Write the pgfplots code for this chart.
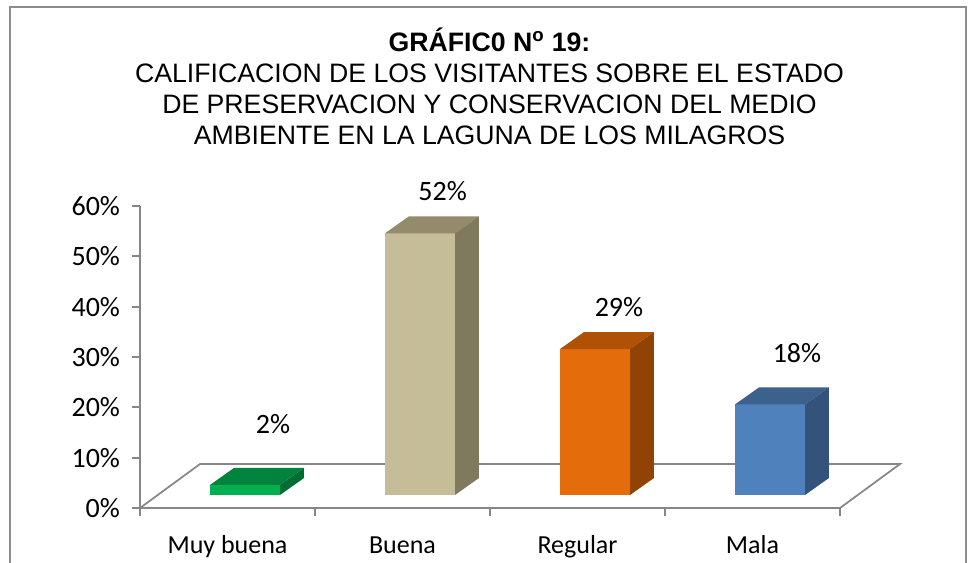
\documentclass[border=0pt]{standalone}
\usepackage{fontspec}
\setmainfont{Carlito}
\newfontfamily\arial{Liberation Sans}
\usepackage{pgfplots}
\pgfplotsset{compat=1.18}

\definecolor{gline}{RGB}{134,134,134}
\definecolor{frameg}{RGB}{140,140,140}
\definecolor{gfront}{RGB}{0,176,80}
\definecolor{gtop}{RGB}{0,132,61}
\definecolor{gside}{RGB}{0,110,50}
\definecolor{bfront}{RGB}{196,189,151}
\definecolor{btop}{RGB}{148,139,108}
\definecolor{bside}{RGB}{127,121,94}
\definecolor{rfront}{RGB}{228,108,10}
\definecolor{rtop}{RGB}{176,82,6}
\definecolor{rside}{RGB}{145,67,6}
\definecolor{mfront}{RGB}{79,129,189}
\definecolor{mtop}{RGB}{60,97,141}
\definecolor{mside}{RGB}{51,83,122}

% 3D bar: #1 category centre, #2 value (%), #3 front, #4 top, #5 side
\newcommand{\tdbar}[5]{%
  \pgfmathsetmacro\xl{#1-0.1}%
  \pgfmathsetmacro\xr{#1+0.3}%
  \pgfmathsetmacro\xrr{#1+0.3+0.137}%
  \pgfmathsetmacro\xll{#1-0.1+0.137}%
  \pgfmathsetmacro\yb{2.58}%
  \pgfmathsetmacro\ybb{2.58+3.38}%
  \pgfmathsetmacro\yt{2.58+#2}%
  \pgfmathsetmacro\ytt{2.58+#2+3.38}%
  \addplot[fill=#3, draw=none] coordinates {(\xl,\yb) (\xr,\yb) (\xr,\yt) (\xl,\yt)};
  \addplot[fill=#4, draw=none] coordinates {(\xl,\yt) (\xr,\yt) (\xrr,\ytt) (\xll,\ytt)};
  \addplot[fill=#5, draw=none] coordinates {(\xr,\yb) (\xrr,\ybb) (\xrr,\ytt) (\xr,\yt)};
}

\newcommand{\lblfont}{\fontsize{19.5}{21}\selectfont}
\newcommand{\numfont}{\fontsize{21}{23}\selectfont}

\begin{document}
\begin{tikzpicture}
\begin{scope}[x=0.75pt,y=0.75pt]
  \useasboundingbox (-140,-50) rectangle (829,508);
  \draw[frameg, line width=1.6pt] (-130,-70) -- (-130,501) -- (826,501) -- (826,-70);
  \node[anchor=base, font=\arial\bfseries\fontsize{20}{23}\selectfont] at (349.5,456.5) {GRÁFIC0 N\textsuperscript{o} 19:};
  \node[anchor=base, font=\arial\fontsize{20}{23}\selectfont] at (349.5,425.5) {CALIFICACION DE LOS VISITANTES SOBRE EL ESTADO};
  \node[anchor=base, font=\arial\fontsize{20}{23}\selectfont] at (349.5,394.5) {DE PRESERVACION Y CONSERVACION DEL MEDIO};
  \node[anchor=base, font=\arial\fontsize{20}{23}\selectfont] at (349.5,363.5) {AMBIENTE EN LA LAGUNA DE LOS MILAGROS};
\end{scope}
\begin{axis}[
  at={(0,0)}, anchor=south west,
  scale only axis, width=525pt, height=226.5pt,
  xmin=0, xmax=4, ymin=0, ymax=60,
  clip=false,
  axis lines=left,
  axis line style={draw=gline, line width=1.4pt, -},
  tick style={draw=gline, line width=1.4pt},
  tick align=outside,
  major tick length=6pt,
  xtick={0,1,2,3,4},
  xticklabels={Muy buena,Buena,Regular,Mala},
  x tick label as interval,
  ytick={0,10,20,30,40,50,60},
  yticklabel={\pgfmathprintnumber{\tick}\%},
  /pgf/number format/assume math mode=true,
  xticklabel style={font=\lblfont, anchor=base, yshift=-28pt},
  yticklabel style={font=\numfont, anchor=east, xshift=-5.5pt},
]
  % floor outline
  \addplot[draw=gline, line width=1.3pt] coordinates {(0,0) (0.343,8.74) (4.343,8.74) (4,0)};
  % bars
  \tdbar{0.5}{2}{gfront}{gtop}{gside}
  \tdbar{1.5}{52}{bfront}{btop}{bside}
  \tdbar{2.5}{29}{rfront}{rtop}{rside}
  \tdbar{3.5}{18}{mfront}{mtop}{mside}
  % data labels
  \addplot[only marks, mark=none, point meta=explicit symbolic,
    nodes near coords,
    every node near coord/.append style={anchor=center, font=\numfont, inner sep=0pt}]
    coordinates {(0.760,16.69)[2\%] (1.729,63.0)[52\%] (2.737,39.94)[29\%] (3.754,30.80)[18\%]};
\end{axis}
\end{tikzpicture}
\end{document}
